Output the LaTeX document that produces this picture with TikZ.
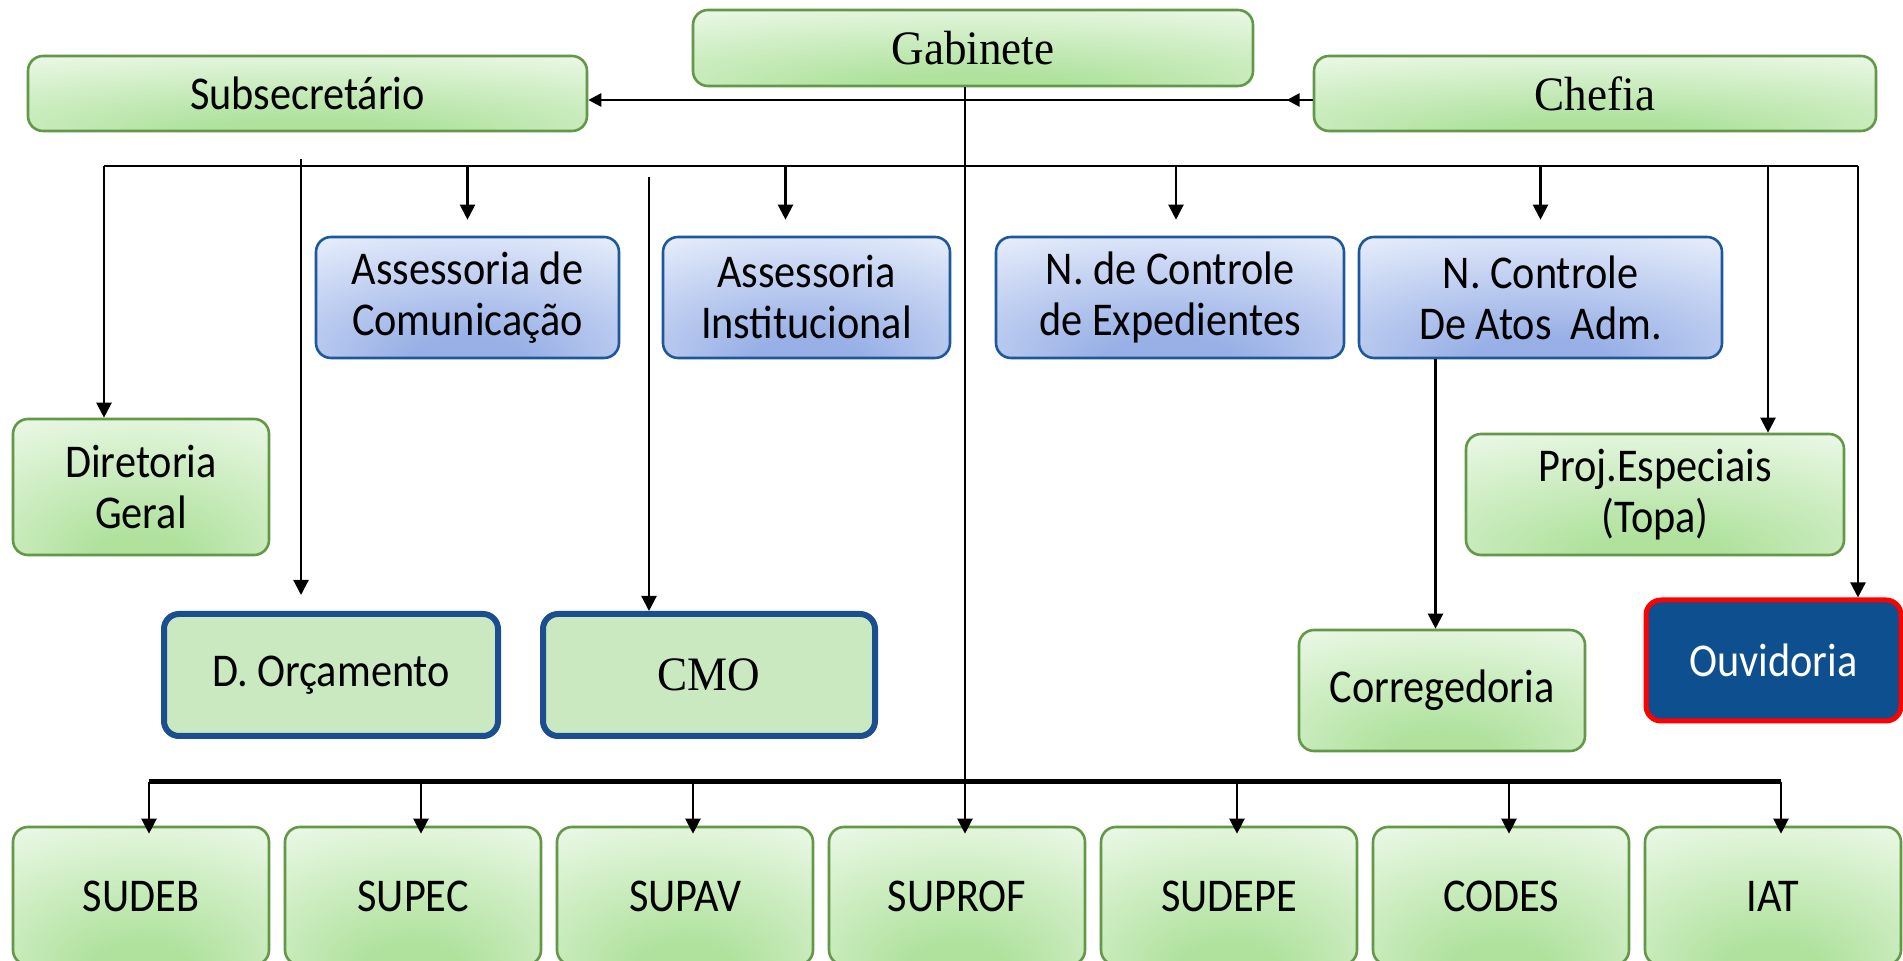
\documentclass[tikz,border=0pt]{standalone}
\usepackage{fontspec}
\setmainfont{Carlito}[FakeStretch=0.9]
\newfontfamily\gabfont{Liberation Serif}[FakeStretch=0.94]
\usepackage[dvipsnames]{xcolor}
\usetikzlibrary{arrows.meta,calc}

\definecolor{grnin}{RGB}{176,226,158}
\definecolor{grnout}{RGB}{237,249,233}
\definecolor{grnline}{RGB}{98,152,72}
\definecolor{bluin}{RGB}{152,176,230}
\definecolor{bluout}{RGB}{234,240,252}
\definecolor{bluline}{RGB}{30,88,156}
\definecolor{orcfill}{RGB}{203,233,193}
\definecolor{orcline}{RGB}{26,78,142}
\definecolor{ouvfill}{RGB}{14,79,143}

\pgfdeclareradialshading{greenglow}{\pgfpoint{0bp}{-30bp}}{color(0bp)=(grnin); color(10bp)=(grnin); color(48bp)=(grnout); color(90bp)=(grnout)}
\pgfdeclareradialshading{blueglow}{\pgfpoint{0bp}{-30bp}}{color(0bp)=(bluin); color(10bp)=(bluin); color(48bp)=(bluout); color(90bp)=(bluout)}

\tikzset{
  wh/.style 2 args={minimum width=#1*0.5pt, minimum height=#2*0.5pt},
  box/.style={rounded corners=7.5pt, align=center, inner sep=0pt, font=\fontsize{23.5}{25.5}\selectfont},
  greenbox/.style={box, draw=grnline, line width=1.3pt, shade, shading=greenglow},
  bluebox/.style={box, draw=bluline, line width=1.3pt, shade, shading=blueglow},
  orcbox/.style={box, draw=orcline, line width=3pt, fill=orcfill},
  ouvbox/.style={box, draw=red, line width=2.5pt, fill=ouvfill, text=white},
  serifname/.style={font=\gabfont\fontsize{24}{26}\selectfont},
  arr/.style={-{Triangle[width=7.5pt,length=7.5pt]}, line width=1.1pt},
}

\begin{document}
\begin{tikzpicture}[x=0.5pt, y=-0.5pt]
    \fill[white] (0,0) rectangle (1903,961);
    \useasboundingbox (0,0) rectangle (1903,961);
    % top row
    \node[greenbox, wh={559}{75}] (subsec) at (307.5,93.5) {Subsecretário};
    \node[greenbox, serifname, wh={560}{76}] (gab) at (973,48) {Gabinete};
    \node[greenbox, serifname, wh={562}{75}] (chefia) at (1595,93.5) {Chefia};
    % assessorias
    \node[bluebox, wh={303}{121}] (asscom) at (467.5,297.5) {Assessoria de\\Comunicação};
    \node[bluebox, wh={287}{121}] (assinst) at (806.5,297.5) {Assessoria\\Institucional};
    \node[bluebox, wh={348}{121}] (nce) at (1170,297.5) {N. de Controle\\de Expedientes};
    \node[bluebox, wh={363}{121}] (nca) at (1540.5,297.5) {N. Controle\\De Atos~~Adm.};
    \node[greenbox, wh={256}{136}] (dir) at (141,487) {Diretoria\\Geral};
    \node[greenbox, wh={378}{121}] (proj) at (1655,494.5) {Proj.Especiais\\(Topa)};
    \node[orcbox, wh={334}{122}] (dorc) at (331,675) {D. Orçamento};
    \node[orcbox, serifname, wh={332}{122}] (cmo) at (709,675) {CMO};
    \node[greenbox, wh={286}{121}] (corr) at (1442,690.5) {Corregedoria};
    \node[ouvbox, wh={255}{121}] (ouv) at (1773.5,660.5) {Ouvidoria};
    % superintendencias
    \foreach \name [count=\i from 0] in {SUDEB,SUPEC,SUPAV,SUPROF,SUDEPE,CODES,IAT}
        \node[greenbox, wh={256}{138}] (b\i) at (141+272*\i,896) {\name};

    \draw[{Triangle[reversed,width=6.5pt,length=6.5pt,sep=6.5pt]}-{Triangle[width=6.5pt,length=6.5pt]}, line width=1.4pt]
        ($(chefia.west)+(0,6.5)$) -- ($(subsec.east)+(0,6.5)$);
    \draw[line width=1.4pt] ($(chefia.west)+(0,6.5)$) -- ++(-14,0);
    \coordinate (busL) at (104,166);
    \coordinate (busR) at (1858,166);
    \draw[line width=1.4pt] (busL) -- (busR);
    \draw[arr] ($(b3.north |- gab.south)+(8,0)$) -- ($(b3.north)+(8,8)$);
    \draw[arr] (busL) -- (busL |- dir.north);
    \draw[arr] ($(dorc.north |- busL)+(-30,-7)$) -- ($(dorc.north)+(-30,-16)$);
    \draw[arr] (asscom.north |- busL) -- ($(asscom.north)+(0,-16)$);
    \draw[arr] ($(cmo.north |- busL)+(-60,11)$) -- ($(cmo.north)+(-60,0)$);
    \draw[arr] ($(assinst.north |- busL)+(-21,0)$) -- ($(assinst.north)+(-21,-16)$);
    \draw[arr] ($(nce.north |- busL)+(6,0)$) -- ($(nce.north)+(6,-16)$);
    \draw[arr] (nca.north |- busL) -- ($(nca.north)+(0,-16)$);
    \draw[arr] ($(proj.north |- busL)+(113,0)$) -- ($(proj.north)+(113,0)$);
    \draw[arr] (busR) -- (busR |- ouv.north);
    \draw[arr] ($(nca.south)+(-105,0)$) coordinate (c2) -- (c2 |- corr.north);
    % lower bus
    \draw[line width=2.2pt] ($(b0.north)+(8,-44)$) -- ($(b6.north)+(8,-44)$);
    \foreach \i in {0,1,2,4,5,6}
        \draw[arr] ($(b\i.north)+(8,-44)$) -- ($(b\i.north)+(8,8)$);
\end{tikzpicture}
\end{document}
